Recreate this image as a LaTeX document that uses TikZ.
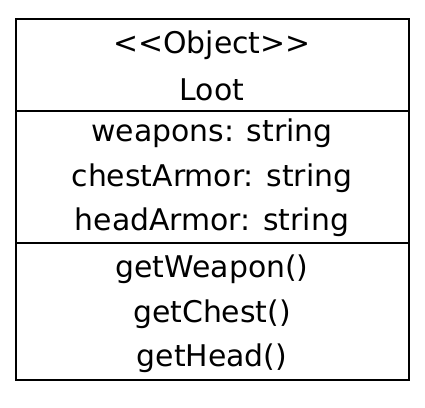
\documentclass[tikz,border=0pt]{standalone}
\usepackage{fontspec}
\setmainfont{DejaVu Sans}
\usetikzlibrary{backgrounds}

\begin{document}
\begin{tikzpicture}[x=0.02cm,y=-0.02cm,
txt/.style={font=\fontsize{17}{18}\selectfont, inner sep=0pt, anchor=center},
frame/.style={draw=black, line width=1.4pt}]
\useasboundingbox (0,0) rectangle (425,407);
% the class box
\coordinate (nw) at (16,19);
\coordinate (se) at (409,380);
\draw[frame] (nw) rectangle (se);
\draw[frame] (16,111) -- (409,111);
\draw[frame] (16,243) -- (409,243);
% header
\node[txt] (stereo) at (212,45) {{<}{<}Object{>}{>}};
\node[txt] (name) at (212,90) {Loot};
% attributes
\node[txt] (weapons) at (212,133) {weapons: string};
\node[txt] (chest) at (212,178) {chestArmor: string};
\node[txt] (head) at (212,222) {headArmor: string};
% operations
\node[txt] (getweapon) at (212,269) {getWeapon()};
\node[txt] (getchest) at (212,314) {getChest()};
\node[txt] (gethead) at (212,358) {getHead()};
\end{tikzpicture}
\end{document}
